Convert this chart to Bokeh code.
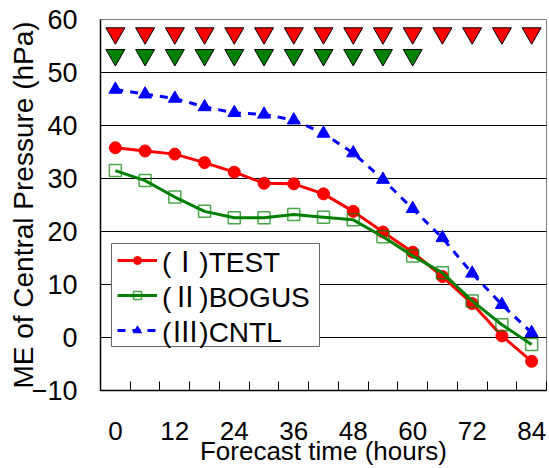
from bokeh.plotting import figure
from bokeh.models import Range1d, FixedTicker, Legend, LegendItem, BoxAnnotation
from bokeh.embed import file_html
from bokeh.resources import INLINE

hours = [0, 6, 12, 18, 24, 30, 36, 42, 48, 54, 60, 66, 72, 78, 84]
test = [35.8, 35.2, 34.6, 33.0, 31.2, 29.1, 29.0, 27.1, 23.8, 19.9, 16.1, 11.5, 6.4, 0.3, -4.5]
bogus = [31.5, 29.6, 26.5, 23.8, 22.6, 22.6, 23.2, 22.7, 22.2, 19.0, 15.4, 12.2, 6.9, 2.4, -1.3]
cntl = [46.8, 45.9, 45.1, 43.5, 42.4, 42.1, 41.0, 38.5, 34.8, 29.8, 24.3, 18.8, 12.1, 6.2, 0.9]

test_sig_hours = [0, 6, 12, 18, 24, 30, 36, 42, 48, 54, 60, 66, 72, 78, 84]
test_sig_level = [57.4, 57.4, 57.4, 57.4, 57.4, 57.4, 57.4, 57.4, 57.4, 57.4, 57.4, 57.4, 57.4, 57.4, 57.4]
bogus_sig_hours = [0, 6, 12, 18, 24, 30, 36, 42, 48, 54, 60]
bogus_sig_level = [53.3, 53.3, 53.3, 53.3, 53.3, 53.3, 53.3, 53.3, 53.3, 53.3, 53.3]

x_labels = [0, 12, 24, 36, 48, 60, 72, 84]
x_bounds = [-3, 3, 9, 15, 21, 27, 33, 39, 45, 51, 57, 63, 69, 75, 81, 87]
y_ticks = [-10, 0, 10, 20, 30, 40, 50, 60]
names = ["(\u2160)TEST", "(\u2161)BOGUS", "(\u2162)CNTL"]
x_title = "Forecast time (hours)"
x_title_center = 42
y_title = "ME of Central Pressure (hPa)"

RED = "#FF0000"
GREEN = "#008000"
BLUE = "#0000FF"
SANS = "Liberation Sans"
MIX = "Liberation Sans, Noto Sans CJK JP"

p = figure(width=549, height=468, x_range=Range1d(-3, 87), y_range=Range1d(-10, 60),
           output_backend="svg", toolbar_location=None,
           min_border_left=100, min_border_right=3, min_border_top=19, min_border_bottom=78)

p.outline_line_color = "#808080"
p.outline_line_width = 1
p.xgrid.visible = False
p.ygrid.ticker = FixedTicker(ticks=y_ticks)
p.ygrid.grid_line_color = "black"
p.ygrid.grid_line_width = 1

# x axis: the axis title is carried as a second line of a label centred under the axis
xa = p.xaxis[0]
xa.ticker = FixedTicker(ticks=sorted(x_labels + [x_title_center]), minor_ticks=x_bounds)
xa.major_label_overrides = {x_title_center: "\n" + x_title}
xa.major_tick_in = 0
xa.major_tick_out = 0
xa.minor_tick_in = 9
xa.minor_tick_out = 0
xa.minor_tick_line_color = "black"
xa.axis_line_color = "black"
xa.axis_line_width = 1.5
xa.major_label_text_font = SANS
xa.major_label_text_font_size = "26px"
xa.major_label_text_color = "black"
xa.major_label_text_line_height = 0.67
xa.major_label_standoff = 25

ya = p.yaxis[0]
ya.ticker = FixedTicker(ticks=y_ticks)
ya.major_tick_in = 0
ya.major_tick_out = 0
ya.minor_tick_in = 0
ya.minor_tick_out = 0
ya.axis_line_color = "black"
ya.axis_line_width = 1.5
ya.major_label_text_font = SANS
ya.major_label_text_font_size = "27px"
ya.major_label_text_color = "black"
ya.major_label_standoff = 23
ya.axis_label = y_title
ya.axis_label_text_font = SANS
ya.axis_label_text_font_size = "28px"
ya.axis_label_text_font_style = "normal"
ya.axis_label_text_color = "black"
ya.axis_label_standoff = -10

# significance markers
p.scatter(test_sig_hours, test_sig_level, marker="inverted_triangle", size=19,
          fill_color=RED, line_color="black", line_width=1)
p.scatter(bogus_sig_hours, bogus_sig_level, marker="inverted_triangle", size=19,
          fill_color=GREEN, line_color="black", line_width=1)

lc = p.line(hours, cntl, line_color=BLUE, line_width=3, line_dash="8 7")
sc = p.scatter(hours, cntl, marker="triangle", size=13, fill_color=BLUE, line_color=BLUE)
lt = p.line(hours, test, line_color=RED, line_width=3)
st = p.scatter(hours, test, marker="circle", size=12, fill_color=RED, line_color=RED)
lb = p.line(hours, bogus, line_color=GREEN, line_width=3)
sb = p.scatter(hours, bogus, marker="square", size=12, fill_color=None,
               line_color=GREEN, line_alpha=0.7, line_width=1.5)

# legend frame
p.add_layout(BoxAnnotation(left=11, right=219, bottom=44, top=147,
                           left_units="screen", right_units="screen",
                           bottom_units="screen", top_units="screen",
                           fill_color="white", fill_alpha=1,
                           line_color="#666666", line_width=1, line_alpha=1))

entries = [(names[0], [lt, st], 110), (names[1], [lb, sb], 75), (names[2], [lc, sc], 40)]
for label, rends, ypos in entries:
    lg = Legend(items=[LegendItem(label=label, renderers=rends)], location=(17, ypos))
    lg.label_text_font = MIX
    lg.label_text_font_size = "28px"
    lg.label_text_color = "black"
    lg.glyph_width = 40
    lg.glyph_height = 20
    lg.label_standoff = 5
    lg.label_height = 30
    lg.padding = 0
    lg.margin = 0
    lg.border_line_alpha = 0
    lg.background_fill_alpha = 0
    p.add_layout(lg, "center")

open("out.html", "w").write(file_html(p, INLINE))
